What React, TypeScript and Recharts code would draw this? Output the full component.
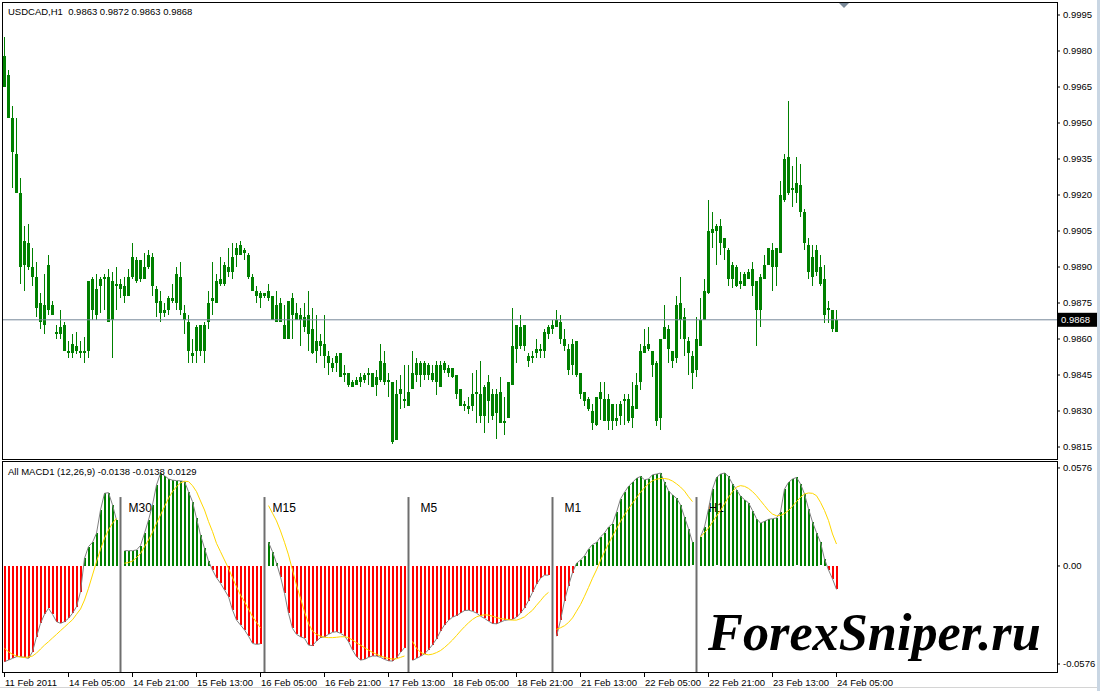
import React from "react";
import {
  ComposedChart,
  Bar,
  Line,
  XAxis,
  YAxis,
  ReferenceLine,
} from "recharts";

const FONT = '"Liberation Sans", Arial, sans-serif';
const GREEN = "#008000";
const RED = "#ff0000";

// USDCAD H1 candles, 11 Feb 2011 -> 24 Feb 2011
const open = [
  0.9978, 0.997, 0.9952, 0.9937, 0.9921, 0.9891, 0.99, 0.989, 0.9886, 0.9875,
  0.9866, 0.9872, 0.9874, 0.9863, 0.9862, 0.9866, 0.9855, 0.9854, 0.9857, 0.9855,
  0.9854, 0.9855, 0.9885, 0.987, 0.9882, 0.9885, 0.9886, 0.9868, 0.9883, 0.9881,
  0.9882, 0.9878, 0.9886, 0.9893, 0.9885, 0.989, 0.989, 0.9894, 0.9881, 0.9876,
  0.9871, 0.9872, 0.9877, 0.9875, 0.9886, 0.9871, 0.9867, 0.9854, 0.9855, 0.9866,
  0.9855, 0.9867, 0.9876, 0.9875, 0.9883, 0.9883, 0.989, 0.9888, 0.9895, 0.9895,
  0.9897, 0.9895, 0.9886, 0.988, 0.9877, 0.9879, 0.9877, 0.9878, 0.9867, 0.9875,
  0.9866, 0.986, 0.9877, 0.9871, 0.9868, 0.9869, 0.9862, 0.9864, 0.9855, 0.9859,
  0.9858, 0.9853, 0.985, 0.985, 0.9854, 0.9845, 0.9846, 0.984, 0.9841, 0.9842,
  0.9843, 0.9845, 0.9846, 0.9841, 0.9843, 0.985, 0.9843, 0.9842, 0.9818, 0.9837,
  0.9835, 0.9832, 0.9839, 0.9845, 0.985, 0.9845, 0.9849, 0.9846, 0.9842, 0.9849,
  0.9847, 0.9848, 0.9848, 0.9845, 0.9839, 0.9832, 0.9832, 0.9832, 0.9837, 0.9837,
  0.9828, 0.9842, 0.9837, 0.9829, 0.9838, 0.9825, 0.9827, 0.9841, 0.9856, 0.9865,
  0.9857, 0.9853, 0.9853, 0.9854, 0.9856, 0.9855, 0.9862, 0.9864, 0.9865, 0.9867,
  0.986, 0.9856, 0.9849, 0.9859, 0.9846, 0.9838, 0.9835, 0.983, 0.9824, 0.9835,
  0.9835, 0.9826, 0.9833, 0.9827, 0.9828, 0.9835, 0.9835, 0.9827, 0.9831, 0.9842,
  0.9854, 0.9858, 0.9855, 0.985, 0.9827, 0.986, 0.9864, 0.9855, 0.9852, 0.9868,
  0.9869, 0.9859, 0.9853, 0.9847, 0.9857, 0.9868, 0.9879, 0.9904, 0.9905, 0.9907,
  0.9902, 0.9897, 0.9885, 0.989, 0.9884, 0.9882, 0.9885, 0.9882, 0.9884, 0.9872,
  0.9885, 0.9891, 0.9897, 0.989, 0.9896, 0.9918, 0.9936, 0.9922, 0.9921, 0.9924,
  0.9913, 0.9899, 0.9886, 0.9897, 0.989, 0.9885, 0.9872, 0.9872, 0.9863,
];
const high = [
  0.9986, 0.9972, 0.9957, 0.9952, 0.9927, 0.9907, 0.9908, 0.9898, 0.9892, 0.9879,
  0.9887, 0.9895, 0.9876, 0.9866, 0.9872, 0.9867, 0.9859, 0.9862, 0.9863, 0.9859,
  0.9861, 0.9884, 0.9886, 0.9887, 0.9886, 0.9887, 0.9889, 0.9888, 0.989, 0.9885,
  0.9886, 0.9889, 0.99, 0.9894, 0.9893, 0.9896, 0.9897, 0.9896, 0.9882, 0.988,
  0.9875, 0.9878, 0.9883, 0.989, 0.9892, 0.9874, 0.987, 0.986, 0.9866, 0.9866,
  0.9867, 0.988, 0.9892, 0.9887, 0.9894, 0.9892, 0.9898, 0.99, 0.99, 0.9901,
  0.9898, 0.9896, 0.9887, 0.9882, 0.988, 0.9879, 0.9883, 0.9878, 0.988, 0.9877,
  0.9874, 0.9876, 0.9879, 0.9875, 0.9873, 0.9875, 0.988, 0.9873, 0.987, 0.9862,
  0.987, 0.9855, 0.9852, 0.9854, 0.9854, 0.9849, 0.9846, 0.9843, 0.9844, 0.9846,
  0.9846, 0.9848, 0.9846, 0.9847, 0.9858, 0.9855, 0.9846, 0.9842, 0.9843, 0.9845,
  0.9849, 0.9849, 0.9855, 0.9852, 0.9851, 0.9851, 0.985, 0.9849, 0.9851, 0.9851,
  0.9851, 0.9849, 0.9848, 0.9845, 0.9839, 0.9834, 0.9836, 0.9846, 0.9847, 0.9851,
  0.9841, 0.9845, 0.9839, 0.9839, 0.9844, 0.9836, 0.9842, 0.9873, 0.9866, 0.987,
  0.9866, 0.9854, 0.9855, 0.986, 0.9858, 0.9864, 0.9866, 0.9868, 0.9872, 0.987,
  0.9864, 0.9858, 0.986, 0.9859, 0.9846, 0.9838, 0.9836, 0.9833, 0.9836, 0.9842,
  0.9842, 0.9837, 0.9833, 0.9833, 0.9834, 0.9837, 0.9837, 0.9842, 0.9846, 0.9858,
  0.9864, 0.9865, 0.9855, 0.9851, 0.986, 0.9874, 0.9866, 0.9855, 0.9878, 0.9886,
  0.9873, 0.9861, 0.9855, 0.9869, 0.9877, 0.9885, 0.9918, 0.9913, 0.9908, 0.991,
  0.9902, 0.9898, 0.9892, 0.9891, 0.9888, 0.9888, 0.9889, 0.9892, 0.9884, 0.9887,
  0.9895, 0.9898, 0.99, 0.9898, 0.9926, 0.9937, 0.9959, 0.9932, 0.9936, 0.9933,
  0.9914, 0.9902, 0.9899, 0.9899, 0.9895, 0.9891, 0.9876, 0.9872, 0.9872,
];
const low = [
  0.9965, 0.9952, 0.9923, 0.9921, 0.9883, 0.988, 0.9889, 0.9882, 0.9869, 0.9864,
  0.9862, 0.987, 0.987, 0.986, 0.986, 0.9855, 0.9852, 0.9852, 0.9854, 0.9852,
  0.985, 0.9852, 0.9868, 0.9868, 0.9871, 0.9872, 0.9867, 0.9852, 0.9872, 0.9877,
  0.9875, 0.9878, 0.9885, 0.9883, 0.9884, 0.9885, 0.9889, 0.9878, 0.9869, 0.9867,
  0.9869, 0.987, 0.9875, 0.9872, 0.987, 0.9862, 0.985, 0.985, 0.985, 0.9853,
  0.985, 0.9864, 0.987, 0.9875, 0.9882, 0.9882, 0.9886, 0.9885, 0.989, 0.9895,
  0.9893, 0.9885, 0.988, 0.9875, 0.9873, 0.9877, 0.9876, 0.9868, 0.9867, 0.9867,
  0.986, 0.986, 0.986, 0.9868, 0.9857, 0.9863, 0.9855, 0.9854, 0.985, 0.9853,
  0.9848, 0.9845, 0.9846, 0.9846, 0.9844, 0.9842, 0.984, 0.984, 0.9841, 0.984,
  0.9842, 0.9841, 0.984, 0.9836, 0.9842, 0.9841, 0.9836, 0.9816, 0.9818, 0.9831,
  0.9831, 0.9832, 0.9839, 0.9842, 0.984, 0.9843, 0.9843, 0.9842, 0.9837, 0.984,
  0.9846, 0.9844, 0.9844, 0.9835, 0.9832, 0.983, 0.9829, 0.983, 0.9825, 0.9825,
  0.9821, 0.9825, 0.9826, 0.9818, 0.9825, 0.982, 0.9827, 0.9841, 0.985, 0.9856,
  0.9855, 0.9848, 0.985, 0.9852, 0.9852, 0.9852, 0.986, 0.9862, 0.9865, 0.9858,
  0.9855, 0.9845, 0.9845, 0.9844, 0.9835, 0.9832, 0.983, 0.9822, 0.9824, 0.9826,
  0.9826, 0.9822, 0.9822, 0.9824, 0.9824, 0.9824, 0.9825, 0.9823, 0.9831, 0.9839,
  0.9854, 0.9855, 0.9844, 0.9824, 0.9822, 0.986, 0.985, 0.9848, 0.985, 0.986,
  0.9853, 0.9845, 0.9839, 0.9844, 0.9857, 0.9868, 0.9879, 0.9898, 0.9891, 0.9895,
  0.9893, 0.9882, 0.9881, 0.9882, 0.9881, 0.9882, 0.9885, 0.9878, 0.9857, 0.9865,
  0.9885, 0.9891, 0.988, 0.9882, 0.9896, 0.9917, 0.992, 0.9915, 0.9917, 0.9911,
  0.9897, 0.9885, 0.9882, 0.9886, 0.9882, 0.9867, 0.9867, 0.9863, 0.9863,
];
const close = [
  0.9965, 0.9952, 0.9938, 0.9921, 0.989, 0.9901, 0.989, 0.9886, 0.9873, 0.9867,
  0.9874, 0.9891, 0.987, 0.9862, 0.9865, 0.9855, 0.9854, 0.9858, 0.9855, 0.9854,
  0.9855, 0.9884, 0.9872, 0.9881, 0.9885, 0.9886, 0.9867, 0.9884, 0.9882, 0.9883,
  0.9878, 0.9886, 0.9894, 0.9884, 0.9893, 0.9885, 0.9895, 0.9882, 0.9875, 0.9871,
  0.9872, 0.9877, 0.9876, 0.9887, 0.9872, 0.9868, 0.9855, 0.9853, 0.9865, 0.9855,
  0.9866, 0.9875, 0.9877, 0.9884, 0.9885, 0.9891, 0.9888, 0.9894, 0.9898, 0.9899,
  0.9896, 0.9886, 0.988, 0.9878, 0.9879, 0.9878, 0.988, 0.9868, 0.9874, 0.9867,
  0.986, 0.9876, 0.987, 0.9868, 0.987, 0.9865, 0.987, 0.9854, 0.9859, 0.9857,
  0.9853, 0.985, 0.9848, 0.9853, 0.9844, 0.9846, 0.9841, 0.9842, 0.9843, 0.9844,
  0.9845, 0.9846, 0.984, 0.9844, 0.9851, 0.9842, 0.9842, 0.9817, 0.9837, 0.9839,
  0.9834, 0.9838, 0.9846, 0.985, 0.9845, 0.985, 0.9845, 0.9843, 0.9849, 0.984,
  0.985, 0.9846, 0.9844, 0.9837, 0.9832, 0.9833, 0.9831, 0.9837, 0.9838, 0.9828,
  0.984, 0.9834, 0.9828, 0.9837, 0.9825, 0.9826, 0.9842, 0.9857, 0.9866, 0.9857,
  0.9866, 0.9851, 0.9852, 0.9856, 0.9855, 0.9863, 0.9865, 0.9866, 0.9868, 0.986,
  0.9857, 0.9847, 0.9858, 0.9845, 0.9837, 0.9834, 0.9831, 0.9825, 0.9836, 0.9838,
  0.9826, 0.9835, 0.9826, 0.9826, 0.9833, 0.9834, 0.9826, 0.9832, 0.9841, 0.9855,
  0.9857, 0.9856, 0.9849, 0.9826, 0.986, 0.9865, 0.9856, 0.9851, 0.9874, 0.9875,
  0.986, 0.9854, 0.9846, 0.986, 0.9868, 0.988, 0.9905, 0.9906, 0.9907, 0.99,
  0.9898, 0.9885, 0.9891, 0.9882, 0.9883, 0.9887, 0.9888, 0.9889, 0.9872, 0.9886,
  0.9891, 0.9898, 0.989, 0.9898, 0.992, 0.9935, 0.9921, 0.9923, 0.9925, 0.9913,
  0.99, 0.9888, 0.9894, 0.9888, 0.9883, 0.987, 0.9873, 0.9864, 0.9868,
];

// MACD main values, one block per timeframe section of the indicator window
const macdH4 = [
  -0.0562, -0.0553, -0.0543, -0.0533, -0.0533, -0.0537, -0.0543, -0.0504, -0.0416, -0.0337,
  -0.0284, -0.0249, -0.0284, -0.0327, -0.0337, -0.0327, -0.0308, -0.0278, -0.0239, -0.0151,
  0.0045, 0.0114, 0.0139, 0.0192, 0.0329, 0.0427, 0.0431, 0.0359, 0.027,
];
const macdM30 = [
  0.009, 0.009, 0.009, 0.0094, 0.012, 0.0192, 0.027, 0.0359, 0.0476, 0.0545,
  0.0531, 0.0512, 0.0504, 0.0502, 0.05, 0.0496, 0.0437, 0.0378, 0.028, 0.0182,
  0.0104, 0.0029, -0.0024, -0.0069, -0.0102, -0.0141, -0.018, -0.0259, -0.0318, -0.0347,
  -0.0376, -0.0412, -0.0455, -0.0461, -0.0457,
];
const macdM15 = [
  0.0139, 0.0084, 0.0016, -0.0063, -0.0161, -0.0278, -0.0367, -0.0402, -0.0416, -0.0425,
  -0.0465, -0.0468, -0.0441, -0.0421, -0.0416, -0.0402, -0.039, -0.0386, -0.0396, -0.041,
  -0.0445, -0.0494, -0.0533, -0.0553, -0.0549, -0.0537, -0.0529, -0.0529, -0.0537, -0.0549,
  -0.0557, -0.0559, -0.0539, -0.0508, -0.048,
];
const macdM5 = [
  -0.0555, -0.0543, -0.0531, -0.0516, -0.0492, -0.0463, -0.0428, -0.0383, -0.0346, -0.032,
  -0.0301, -0.0291, -0.0277, -0.0262, -0.026, -0.0266, -0.0277, -0.0295, -0.0308, -0.0324,
  -0.0338, -0.034, -0.033, -0.032, -0.0316, -0.0314, -0.0301, -0.0277, -0.0246, -0.0204,
  -0.0155, -0.0107, -0.0072, -0.0054, -0.0054,
];
const macdM1 = [
  -0.0413, -0.032, -0.0204, -0.0116, -0.0039, 0.0016, 0.0035, 0.006, 0.0099, 0.0126,
  0.0138, 0.0171, 0.0194, 0.0229, 0.0248, 0.0316, 0.0394, 0.0433, 0.0468, 0.0491,
  0.0515, 0.0526, 0.0507, 0.0511, 0.0536, 0.054, 0.0546, 0.0491, 0.0442, 0.0417,
  0.0398, 0.0359, 0.0287, 0.0219, 0.0138,
];
const macdH1 = [
  0.0171, 0.0229, 0.0336, 0.0452, 0.052, 0.054, 0.0546, 0.0526, 0.0482, 0.0449,
  0.041, 0.039, 0.0371, 0.0326, 0.0278, 0.0252, 0.0262, 0.0274, 0.0278, 0.0282,
  0.0316, 0.0452, 0.0491, 0.0511, 0.052, 0.0482, 0.0423, 0.0336, 0.0258, 0.0196,
  0.0138, 0.0041, -0.0023, -0.0076, -0.0138,
];

// signal line values, same blocks
const signalH4 = [
  -0.0484, -0.0504, -0.0519, -0.0529, -0.0535, -0.0537, -0.0535, -0.0529, -0.0512, -0.0488,
  -0.0465, -0.0445, -0.0423, -0.0402, -0.038, -0.0359, -0.0337, -0.0316, -0.0284, -0.0253,
  -0.02, -0.0131, -0.0053, 0.0025, 0.0098, 0.0163, 0.0212, 0.0251, 0.028,
];
const signalM30 = [
  0.0016, 0.002, 0.0029, 0.0049, 0.0073, 0.0114, 0.0153, 0.0198, 0.0251, 0.03,
  0.0349, 0.0398, 0.0437, 0.0466, 0.0488, 0.0498, 0.0496, 0.0472, 0.0437, 0.0382,
  0.0329, 0.0261, 0.0202, 0.0133, 0.0084, 0.0035, -0.0014, -0.0069, -0.0122, -0.0171,
  -0.021, -0.0253, -0.0298, -0.0331, -0.0363,
];
const signalM15 = [
  0.0355, 0.031, 0.0265, 0.0206, 0.0139, 0.0065, -0.0024, -0.0112, -0.019, -0.0269,
  -0.0337, -0.0382, -0.0402, -0.0412, -0.0419, -0.0421, -0.0421, -0.0419, -0.0416, -0.0416,
  -0.0421, -0.0435, -0.0451, -0.0465, -0.048, -0.0494, -0.0508, -0.0519, -0.0529, -0.0537,
  -0.0543, -0.0547, -0.0545, -0.0537, -0.0529,
];
const signalM5 = [
  -0.0444, -0.0483, -0.0507, -0.0518, -0.0522, -0.0518, -0.0509, -0.0497, -0.0479, -0.0458,
  -0.0435, -0.0409, -0.0382, -0.0357, -0.0334, -0.0314, -0.0299, -0.0291, -0.0287, -0.0289,
  -0.0295, -0.0303, -0.0309, -0.0312, -0.0316, -0.0318, -0.0318, -0.031, -0.0299, -0.0279,
  -0.026, -0.0231, -0.0204, -0.0175, -0.0155,
];
const signalM1 = [
  -0.0372, -0.0363, -0.0351, -0.0332, -0.0305, -0.0266, -0.0227, -0.0178, -0.0126, -0.0072,
  -0.0023, 0.0033, 0.0083, 0.013, 0.0175, 0.0219, 0.0262, 0.0301, 0.0336, 0.0369,
  0.0402, 0.0433, 0.046, 0.0483, 0.0501, 0.051, 0.0514, 0.0514, 0.051, 0.0499,
  0.0483, 0.0464, 0.044, 0.0407, 0.0378,
];
const signalH1 = [
  0.0171, 0.0196, 0.0223, 0.0258, 0.0293, 0.0326, 0.0365, 0.0404, 0.0437, 0.0464,
  0.0472, 0.0468, 0.0456, 0.0437, 0.0413, 0.0384, 0.0355, 0.0326, 0.0305, 0.0295,
  0.0297, 0.0309, 0.0326, 0.0351, 0.0378, 0.0404, 0.0423, 0.0429, 0.0427, 0.0413,
  0.0374, 0.0326, 0.0267, 0.0188, 0.0129,
];

const sectionNames = ["M30", "M15", "M5", "M1", "H1"];
const dateTicks = [1, 17, 33, 49, 65, 81, 97, 113, 129, 145, 161, 177, 193, 209];
const dateLabels = [
  "11 Feb 2011", "14 Feb 05:00", "14 Feb 21:00", "15 Feb 13:00", "16 Feb 05:00",
  "16 Feb 21:00", "17 Feb 13:00", "18 Feb 05:00", "18 Feb 21:00", "21 Feb 13:00",
  "22 Feb 05:00", "22 Feb 21:00", "23 Feb 13:00", "24 Feb 05:00",
];
const priceTicks = [
  0.9995, 0.998, 0.9965, 0.995, 0.9935, 0.992, 0.9905, 0.989, 0.9875, 0.986,
  0.9845, 0.983, 0.9815,
];
const macdTicks = [0.0576, 0, -0.0576];
const lastPrice = 0.9868;

const macd: (number | null)[] = [
  ...macdH4, null, ...macdM30, null, ...macdM15, null, ...macdM5, null, ...macdM1, null, ...macdH1,
];
const signal: (number | null)[] = [
  ...signalH4, null, ...signalM30, null, ...signalM15, null, ...signalM5, null, ...signalM1, null, ...signalH1,
];

const rows = open.map((o, i) => ({
  idx: i + 1,
  open: o,
  high: high[i],
  low: low[i],
  close: close[i],
  range: [low[i], high[i]],
  macd: macd[i],
  signal: signal[i],
}));
const separators = rows.filter((r) => r.macd === null).map((r) => r.idx);

const X_DOMAIN: [number, number] = [0.625, 264.125];
const MACD_DOMAIN: [number, number] = [-0.0623, 0.0611];
const SEP_TOP = 0.0405;
const labelDx = [8, 8, 12, 12, 12];

const Candle = (p: any) => {
  const { x, y, width, height, payload } = p;
  if (!payload || height == null) return null;
  const top = Math.min(y, y + height);
  const h = Math.abs(height);
  const cx = Math.floor(x + width / 2);
  const span = payload.high - payload.low || 1;
  const yOf = (v: number) => top + ((payload.high - v) / span) * h;
  const b1 = Math.round(yOf(Math.max(payload.open, payload.close)));
  const b2 = Math.round(yOf(Math.min(payload.open, payload.close)));
  return (
    <g shapeRendering="crispEdges">
      <rect x={cx} y={Math.round(top)} width={1} height={Math.max(1, Math.round(h))} fill={GREEN} />
      <rect x={cx - 1} y={b1} width={3} height={Math.max(1, b2 - b1)} fill={GREEN} />
    </g>
  );
};

const HistBar = (p: any) => {
  const { x, y, width, height, payload } = p;
  if (!payload || payload.macd == null || height == null) return null;
  const top = Math.min(y, y + height);
  const h = Math.abs(height);
  const cx = Math.floor(x + width / 2);
  return (
    <rect
      x={cx}
      y={Math.round(top)}
      width={2}
      height={Math.max(1, Math.round(h))}
      fill={payload.macd >= 0 ? GREEN : RED}
      shapeRendering="crispEdges"
    />
  );
};

const DateTick = (p: any) => {
  const { x, y, payload } = p;
  const k = dateTicks.indexOf(payload.value);
  const px = Math.floor(x);
  return (
    <g>
      <rect x={px} y={y + 1} width={1} height={4} fill="#000" />
      <text x={px + 1} y={y + 13.5} fontSize={9.5} fontFamily={FONT} fill="#000">
        {dateLabels[k]}
      </text>
    </g>
  );
};

const PriceTag = (p: any) => {
  const vb = p.viewBox;
  if (!vb) return null;
  const x = vb.x + vb.width + 1;
  return (
    <g>
      <rect x={x} y={vb.y - 7} width={39} height={14} fill="#000" />
      <text x={x + 3} y={vb.y + 3.5} fontSize={9.5} fontFamily={FONT} fill="#fff">
        {lastPrice.toFixed(4)}
      </text>
    </g>
  );
};

const SectionLabel = (p: any) => {
  const vb = p.viewBox;
  if (!vb) return null;
  return (
    <text x={vb.x + p.dx} y={vb.y + 14.5} fontSize={12} fontFamily={FONT} fill="#000">
      {p.text}
    </text>
  );
};

const frame = (top: number, height: number): React.CSSProperties => ({
  position: "absolute",
  left: 2,
  top,
  width: 1054,
  height,
  border: "1px solid #000",
  pointerEvents: "none",
});

const App = () => {
  return (
    <div
      style={{
        position: "relative",
        width: 1100,
        height: 691,
        background: "#fff",
        fontFamily: FONT,
        overflow: "hidden",
      }}
    >
      <style>{`body{margin:0}`}</style>

      <div style={{ position: "absolute", left: 0, top: 0 }}>
        <ComposedChart
          width={1100}
          height={460}
          data={rows}
          margin={{ top: 3, right: 3, bottom: 1, left: 3 }}
        >
          <XAxis dataKey="idx" type="number" domain={X_DOMAIN} allowDataOverflow hide />
          <YAxis
            orientation="right"
            width={40}
            domain={[0.981, 1.0]}
            allowDataOverflow
            ticks={priceTicks}
            interval={0}
            tickFormatter={(v: number) => v.toFixed(4)}
            axisLine={false}
            tickSize={3}
            tickMargin={3}
            tickLine={{ stroke: "#000" }}
            tick={{ fontSize: 9.5, fill: "#000", fontFamily: FONT }}
          />
          <ReferenceLine y={lastPrice} stroke="#778899" label={PriceTag} />
          <Bar
            dataKey="range"
            barSize={3}
            shape={Candle}
            isAnimationActive={false}
          />
        </ComposedChart>
      </div>

      <div style={{ position: "absolute", left: 0, top: 460 }}>
        <ComposedChart
          width={1100}
          height={231}
          data={rows}
          margin={{ top: 2, right: 3, bottom: 0, left: 3 }}
        >
          <XAxis
            dataKey="idx"
            type="number"
            domain={X_DOMAIN}
            allowDataOverflow
            ticks={dateTicks}
            interval={0}
            height={19}
            axisLine={false}
            tickLine={false}
            tickSize={0}
            tickMargin={0}
            tick={<DateTick />}
          />
          <YAxis
            orientation="right"
            width={40}
            domain={MACD_DOMAIN}
            allowDataOverflow
            ticks={macdTicks}
            interval={0}
            tickFormatter={(v: number) => (v === 0 ? "0.00" : v.toFixed(4))}
            axisLine={false}
            tickSize={3}
            tickMargin={3}
            tickLine={{ stroke: "#000" }}
            tick={{ fontSize: 9.5, fill: "#000", fontFamily: FONT }}
          />
          {separators.map((s, k) => (
            <ReferenceLine
              key={s}
              segment={[
                { x: s, y: SEP_TOP },
                { x: s, y: MACD_DOMAIN[0] },
              ]}
              stroke="#6e6e6e"
              strokeWidth={2}
              label={<SectionLabel text={sectionNames[k]} dx={labelDx[k]} />}
            />
          ))}
          <Bar dataKey="macd" barSize={2} shape={HistBar} isAnimationActive={false} />
          <Line
            dataKey="macd"
            type="linear"
            stroke="#808080"
            strokeWidth={1}
            dot={false}
            connectNulls={false}
            isAnimationActive={false}
          />
          <Line
            dataKey="signal"
            type="linear"
            stroke="#ffd700"
            strokeWidth={1}
            dot={false}
            connectNulls={false}
            isAnimationActive={false}
          />
        </ComposedChart>
      </div>

      <div style={frame(2, 456)} />
      <div style={frame(461, 210)} />

      <div
        style={{
          position: "absolute",
          left: 8,
          top: 7,
          fontSize: 9.5,
          lineHeight: 1,
          whiteSpace: "pre",
          color: "#000",
        }}
      >
        {`USDCAD,H1  ${open[open.length - 1].toFixed(4)} ${high[high.length - 1].toFixed(4)} ${low[low.length - 1].toFixed(4)} ${close[close.length - 1].toFixed(4)}`}
      </div>
      <div
        style={{
          position: "absolute",
          left: 8,
          top: 467,
          fontSize: 9.5,
          lineHeight: 1,
          whiteSpace: "pre",
          color: "#000",
        }}
      >
        {`All MACD1 (12,26,9) ${macdH1[macdH1.length - 1].toFixed(4)} ${macdH1[macdH1.length - 1].toFixed(4)} ${signalH1[signalH1.length - 1].toFixed(4)}`}
      </div>

      <div
        style={{
          position: "absolute",
          left: 839,
          top: 3,
          width: 0,
          height: 0,
          borderLeft: "5px solid transparent",
          borderRight: "5px solid transparent",
          borderTop: "5px solid #7b8a99",
        }}
      />

      <div
        style={{
          position: "absolute",
          left: 708,
          top: 606,
          fontFamily: '"Liberation Serif", "Times New Roman", serif',
          fontWeight: "bold",
          fontStyle: "italic",
          fontSize: 52.3,
          lineHeight: 1,
          color: "#000",
          whiteSpace: "nowrap",
        }}
      >
        ForexSniper.ru
      </div>

      <div style={{ position: "absolute", left: 1097, top: 0, width: 3, height: 691, background: "#c9d6e3" }} />
      <div style={{ position: "absolute", left: 0, top: 687, width: 1097, height: 1, background: "#d4d4d4" }} />
    </div>
  );
};

export default App;
